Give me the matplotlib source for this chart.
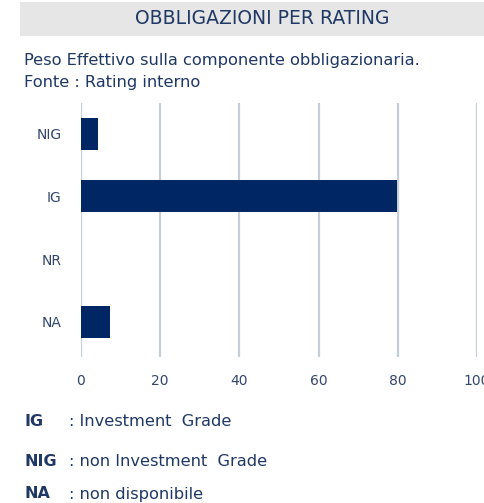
import matplotlib.pyplot as plt
from matplotlib.patches import Rectangle

categories = ['NIG', 'IG', 'NR', 'NA']
values     = [4.4, 79.7, 0.0, 7.4]
x_ticks    = [0, 20, 40, 60, 80, 100]
legend_keys = ['IG', 'NIG', 'NA']
legend_text = [': Investment  Grade', ': non Investment  Grade', ': non disponibile']

NAVY  = '#002664'
TEXT  = '#1f3864'
GRID  = '#c3ced6'
W, H  = 485, 503

fig = plt.figure(figsize=(W / 100, H / 100), dpi=100)
fig.patch.set_facecolor('white')

def px(x, y):
    return x / W, 1 - y / H

# title band
fig.patches.append(Rectangle(px(20, 36), (W - 20) / W, 34 / H,
                             transform=fig.transFigure, facecolor='#e6e6e6',
                             edgecolor='none', zorder=0))
fig.text(*px(262, 19), 'OBBLIGAZIONI PER RATING', ha='center', va='center',
         fontsize=13.5, color=TEXT)
fig.text(*px(24, 61), 'Peso Effettivo sulla componente obbligazionaria.',
         ha='left', va='center', fontsize=11.7, color=TEXT)
fig.text(*px(24, 82), 'Fonte : Rating interno',
         ha='left', va='center', fontsize=11.7, color=TEXT)

ax = fig.add_axes([81 / W, 1 - 357 / H, (477 - 81) / W, (357 - 103) / H])
ypos = list(range(len(categories)))[::-1]
ax.barh(ypos, values, height=0.51, color=NAVY, linewidth=0, zorder=3)
ax.set_xlim(0, 100)
ax.set_ylim(-0.56, 3.49)
ax.set_xticks(x_ticks)
ax.set_yticks(ypos)
ax.set_yticklabels(categories)
ax.grid(axis='x', color=GRID, linewidth=1.6, zorder=0)
ax.tick_params(axis='both', length=0, colors='#33466d', labelsize=10)
ax.tick_params(axis='y', pad=14)
ax.tick_params(axis='x', pad=12)
for s in ax.spines.values():
    s.set_visible(False)

for i, (k, t) in enumerate(zip(legend_keys, legend_text)):
    y = [422, 461, 494][i]
    fig.text(*px(25, y), k, ha='left', va='center', fontsize=11.5,
             fontweight='bold', color=TEXT)
    fig.text(*px(69, y), t, ha='left', va='center', fontsize=11.7, color=TEXT)

fig.savefig('out.png', dpi=100)
